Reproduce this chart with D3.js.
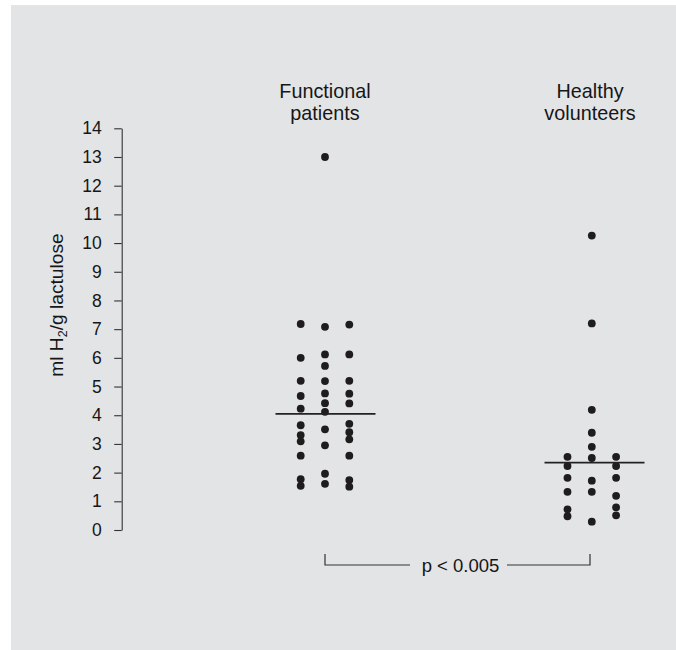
<!DOCTYPE html>
<html>
<head>
<meta charset="utf-8">
<script src="https://cdn.jsdelivr.net/npm/d3@7"></script>
<style>
  body { margin: 0; background: #fff; }
  text { font-family: "Liberation Sans", Arial, sans-serif; fill: #161616; }
</style>
</head>
<body>
<div id="chart"></div>
<script>
// values, one array per column of dots
const groups = ["Functional patients", "Healthy volunteers"]
const groupLines = [["Functional", "patients"], ["Healthy", "volunteers"]]

const functionalLeft = [7.18, 6.0, 5.2, 4.67, 4.23, 3.65, 3.31, 3.09, 2.59, 1.77, 1.54]
const functionalMid = [13.0, 7.08, 6.12, 5.72, 5.19, 4.76, 4.42, 4.12, 3.51, 2.95, 1.96, 1.61]
const functionalRight = [7.16, 6.12, 5.2, 4.75, 4.41, 3.7, 3.41, 3.16, 2.59, 1.74, 1.51]

const healthyLeft = [2.55, 2.23, 1.82, 1.33, 0.72, 0.48]
const healthyMid = [10.26, 7.2, 4.19, 3.39, 2.9, 2.51, 1.72, 1.33, 0.29]
const healthyRight = [2.55, 2.23, 1.82, 1.19, 0.79, 0.51]

const medians = [4.05, 2.35]
const yTicks = d3.range(0, 15)
const pLabel = "p < 0.005"

const width = 676
const height = 650

const columns = [
  { group: 0, col: 0, values: functionalLeft },
  { group: 0, col: 1, values: functionalMid },
  { group: 0, col: 2, values: functionalRight },
  { group: 1, col: 0, values: healthyLeft },
  { group: 1, col: 1, values: healthyMid },
  { group: 1, col: 2, values: healthyRight },
]
const dots = columns.flatMap(c => c.values.map(v => ({ group: c.group, col: c.col, value: v })))

const yScale = d3.scaleLinear()
  .domain([0, 14])
  .range([530, 128.3])

const xScale = d3.scalePoint()
  .domain(groups)
  .range([325, 591])

const colScale = d3.scalePoint()
  .domain([0, 1, 2])
  .range([-24.3, 24.3])

const svg = d3.select("#chart")
  .append("svg")
  .attr("width", width)
  .attr("height", height)

// grey panel
svg.append("rect")
  .attr("x", 11)
  .attr("y", 5)
  .attr("width", width - 11)
  .attr("height", height - 5)
  .attr("fill", "#e3e4e6")

const yAxis = d3.axisLeft(yScale)
  .tickValues(yTicks)
  .tickSize(7.5)
  .tickSizeOuter(0)
  .tickPadding(12.5)

const yg = svg.append("g")
  .attr("class", "y-axis")
  .attr("transform", "translate(121.7 0)")
  .call(yAxis)

yg.select(".domain").attr("stroke", "#333").attr("stroke-width", 1.1)
yg.selectAll(".tick line").attr("stroke", "#333").attr("stroke-width", 1.1)
yg.selectAll(".tick text")
  .attr("font-family", "'Liberation Sans', Arial, sans-serif")
  .attr("font-size", "17.5px")
  .attr("fill", "#161616")

// axis title with subscript
const ylab = svg.append("text")
  .attr("transform", "translate(62.5 305) rotate(-90)")
  .attr("text-anchor", "middle")
  .attr("font-size", "19.2px")
ylab.append("tspan").text("ml H")
ylab.append("tspan").attr("font-size", "12.5px").attr("dy", 4.5).text("2")
ylab.append("tspan").attr("dy", -4.5).text("/g lactulose")

// group headers
groupLines.forEach((lines, i) => {
  svg.append("text")
    .attr("x", xScale(groups[i]) + (i === 1 ? -1 : 0))
    .attr("y", 98.3)
    .attr("text-anchor", "middle")
    .attr("font-size", "19.8px")
    .selectAll("tspan")
    .data(lines)
    .join("tspan")
    .attr("x", xScale(groups[i]) + (i === 1 ? -1 : 0))
    .attr("dy", (d, j) => j === 0 ? 0 : 21.7)
    .text(d => d)
})

// dots
svg.append("g")
  .attr("class", "circles")
  .selectAll("circle")
  .data(dots)
  .join("circle")
  .attr("cx", d => xScale(groups[d.group]) + colScale(d.col) + (d.group === 1 ? 0.8 : 0))
  .attr("cy", d => yScale(d.value))
  .attr("r", 3.9)
  .attr("fill", "#1f1c1d")

// median lines
svg.append("g")
  .selectAll("line")
  .data(medians)
  .join("line")
  .attr("x1", (d, i) => xScale(groups[i]) - 49.5 + (i === 1 ? 3 : 0))
  .attr("x2", (d, i) => xScale(groups[i]) + 50.5 + (i === 1 ? 3 : 0))
  .attr("y1", d => yScale(d))
  .attr("y2", d => yScale(d))
  .attr("stroke", "#222")
  .attr("stroke-width", 1.7)

// significance bracket
const bx0 = xScale(groups[0])
const bx1 = xScale(groups[1]) - 1
const bTop = 554
const bY = 565
const bracket = svg.append("g")
  .attr("stroke", "#333")
  .attr("stroke-width", 1.2)
  .attr("fill", "none")
bracket.append("path")
  .attr("d", `M${bx0},${bTop}V${bY}H410`)
bracket.append("path")
  .attr("d", `M507,${bY}H${bx1}V${bTop}`)

svg.append("text")
  .attr("x", 460.5)
  .attr("y", 571.5)
  .attr("text-anchor", "middle")
  .attr("font-size", "18.5px")
  .text(pLabel)
</script>
</body>
</html>
